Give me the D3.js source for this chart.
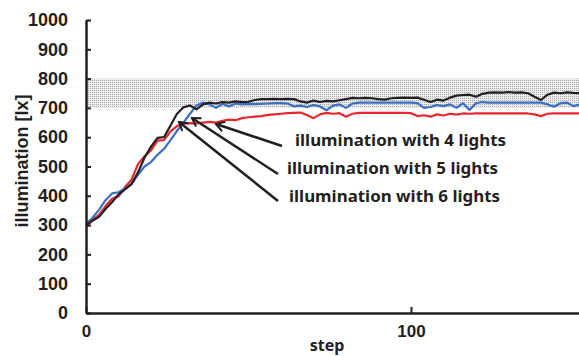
<!DOCTYPE html>
<html>
<head>
<meta charset="utf-8">
<script src="https://cdn.jsdelivr.net/npm/d3@7"></script>
<style>
  html, body { margin: 0; padding: 0; background: #fff; }
  svg { display: block; }
</style>
</head>
<body>
<div id="chart"></div>
<script>
// one sample every 2 steps, step 0 .. 152
const STEP_EVERY = 2;

const yTicks = [0, 100, 200, 300, 400, 500, 600, 700, 800, 900, 1000];
const xTicks = [0, 100];
const targetBand = [700, 800];

const lights4 = [300, 315, 328, 355, 378, 405, 422, 440, 480, 530, 568, 598, 600, 640, 680, 702, 708, 695, 712, 718,
  715, 720, 718, 722, 720, 721, 727, 730, 730, 731, 730, 731, 730, 722, 718, 725, 720, 724, 722, 726,
  730, 734, 733, 734, 733, 730, 728, 733, 734, 735, 734, 735, 728, 720, 728, 725, 735, 742, 744, 745,
  738, 748, 752, 753, 752, 754, 752, 753, 750, 738, 727, 745, 752, 750, 753, 751, 750];

const lights5 = [305, 325, 352, 385, 408, 412, 424, 440, 472, 500, 515, 540, 560, 590, 622, 650, 680, 708, 718, 712,
  700, 714, 705, 715, 712, 714, 713, 714, 715, 716, 716, 715, 705, 708, 703, 710, 705, 692, 708, 712,
  700, 715, 718, 718, 718, 718, 718, 718, 718, 718, 718, 716, 700, 703, 710, 706, 712, 700, 716, 693,
  716, 720, 718, 718, 718, 718, 718, 718, 718, 718, 718, 712, 704, 716, 718, 706, 712];

const lights6 = [293, 318, 335, 365, 390, 398, 430, 455, 508, 535, 555, 588, 590, 620, 638, 646, 648, 647, 650, 652,
  650, 656, 660, 658, 665, 668, 670, 672, 676, 678, 680, 682, 683, 684, 676, 665, 678, 683, 680, 682,
  670, 680, 683, 683, 683, 683, 683, 683, 683, 683, 682, 672, 675, 670, 678, 674, 680, 677, 681, 680,
  681, 681, 681, 681, 681, 681, 681, 681, 681, 678, 672, 680, 681, 681, 681, 681, 681];

const seriesList = [
  { name: 'illumination with 6 lights', values: lights6, color: '#e8262d' },
  { name: 'illumination with 5 lights', values: lights5, color: '#3a6fc4' },
  { name: 'illumination with 4 lights', values: lights4, color: '#231f20' }
];

const W = 579, H = 356;
const margin = { top: 20, bottom: 43, left: 86 };

const svg = d3.select('#chart').append('svg')
  .attr('width', W).attr('height', H);

const defs = svg.append('defs');
const pat = defs.append('pattern')
  .attr('id', 'dots').attr('patternUnits', 'userSpaceOnUse')
  .attr('width', 2).attr('height', 2);
pat.append('rect').attr('width', 2).attr('height', 2).attr('fill', '#ececec');
pat.append('rect').attr('width', 1).attr('height', 1).attr('fill', '#a8a8a8');

// open chevron arrow head, tip at the line end
defs.append('marker')
  .attr('id', 'head').attr('viewBox', '0 0 10 10')
  .attr('refX', 8.5).attr('refY', 5)
  .attr('markerWidth', 5).attr('markerHeight', 5)
  .attr('markerUnits', 'strokeWidth')
  .attr('orient', 'auto')
  .append('path')
  .attr('d', 'M2,1 L8.5,5 L2,9')
  .attr('fill', 'none').attr('stroke', '#231f20').attr('stroke-width', 1.6)
  .attr('stroke-linejoin', 'miter');

const x = d3.scaleLinear().domain([0, 152]).range([margin.left, 580]);
const y = d3.scaleLinear().domain([0, 1000]).range([313, margin.top]);

// target band
svg.append('rect')
  .attr('x', x(0)).attr('width', W - x(0))
  .attr('y', y(targetBand[1])).attr('height', y(targetBand[0]) - y(targetBand[1]))
  .attr('fill', 'url(#dots)');

const line = d3.line()
  .x((d, i) => x(i * STEP_EVERY))
  .y(d => y(d));

svg.append('clipPath').attr('id', 'plot')
  .append('rect').attr('x', x(0)).attr('y', 0).attr('width', W - x(0)).attr('height', 313);

svg.append('g').attr('clip-path', 'url(#plot)')
  .selectAll('path')
  .data(seriesList)
  .enter().append('path')
  .attr('d', d => line(d.values))
  .attr('fill', 'none')
  .attr('stroke', d => d.color)
  .attr('stroke-width', 2.2)
  .attr('stroke-linejoin', 'round');

// axes
const yAxis = svg.append('g')
  .attr('transform', `translate(${x(0)},0)`)
  .call(d3.axisLeft(y).tickValues(yTicks).tickFormat(d3.format('d'))
    .tickSizeInner(-5).tickSizeOuter(0).tickPadding(18));

const xAxis = svg.append('g')
  .attr('transform', `translate(0,${y(0)})`)
  .call(d3.axisBottom(x).tickValues(xTicks).tickFormat(d3.format('d'))
    .tickSizeInner(-6).tickSizeOuter(0).tickPadding(12));

[yAxis, xAxis].forEach(a => {
  a.select('.domain').attr('stroke', '#231f20').attr('stroke-width', 2.5);
  a.selectAll('.tick line').attr('stroke', '#231f20').attr('stroke-width', 2);
  a.selectAll('.tick text')
    .attr('fill', '#231f20')
    .style('font-family', '"Liberation Sans", Arial, sans-serif')
    .style('font-weight', 'bold');
});
yAxis.selectAll('.tick text').style('font-size', '18px');
xAxis.selectAll('.tick text').style('font-size', '17px');

// axis titles
svg.append('text')
  .attr('transform', `translate(28,${161})rotate(-90)`)
  .attr('text-anchor', 'middle')
  .attr('fill', '#231f20')
  .style('font-family', '"Liberation Sans", Arial, sans-serif')
  .style('font-weight', 'bold')
  .style('font-size', '18px')
  .text('illumination [lx]');

svg.append('text')
  .attr('x', 327).attr('y', 351)
  .attr('text-anchor', 'middle')
  .attr('fill', '#231f20')
  .style('font-family', '"Noto Sans", sans-serif')
  .style('font-weight', 'bold')
  .style('font-size', '16px')
  .text('step');

// annotations with arrows
const notes = [
  { text: 'illumination with 4 lights', tx: 295, ty: 146, from: [282, 146], to: [216, 124] },
  { text: 'illumination with 5 lights', tx: 287, ty: 174, from: [278, 174], to: [192, 118] },
  { text: 'illumination with 6 lights', tx: 289, ty: 202, from: [278, 201], to: [179, 122] }
];

const ann = svg.append('g');
ann.selectAll('line')
  .data(notes)
  .enter().append('line')
  .attr('x1', d => d.from[0]).attr('y1', d => d.from[1])
  .attr('x2', d => d.to[0]).attr('y2', d => d.to[1])
  .attr('stroke', '#231f20').attr('stroke-width', 2.5)
  .attr('marker-end', 'url(#head)');

ann.selectAll('text')
  .data(notes)
  .enter().append('text')
  .attr('x', d => d.tx).attr('y', d => d.ty)
  .attr('fill', '#231f20')
  .attr('textLength', 211)
  .attr('lengthAdjust', 'spacingAndGlyphs')
  .style('font-family', '"Noto Sans", sans-serif')
  .style('font-weight', 'bold')
  .style('font-size', '16px')
  .text(d => d.text);
</script>
</body>
</html>
